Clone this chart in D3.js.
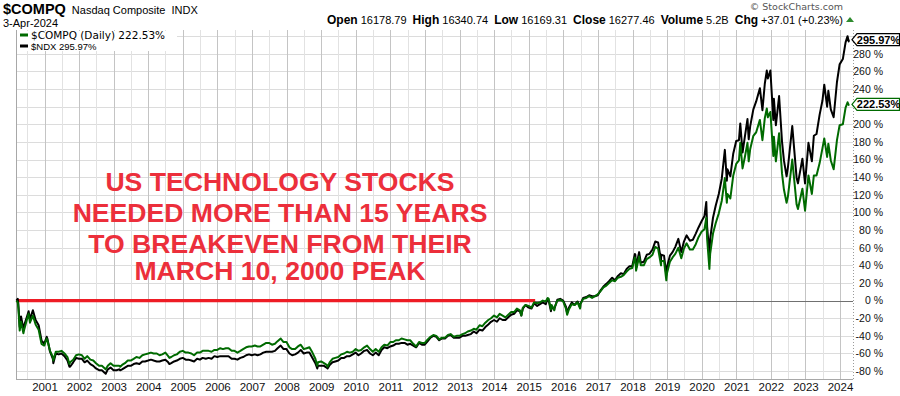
<!DOCTYPE html>
<html><head><meta charset="utf-8">
<script src="https://cdn.jsdelivr.net/npm/d3@7"></script>
<style>body{margin:0;background:#fff}svg{display:block}</style>
</head><body>
<svg id="chart" width="900" height="396"></svg>
<script>
// ---- DATA (percent change since March 10, 2000) ----
const dates = ["2000-03-10","2000-03-24","2000-03-31","2000-04-14","2000-04-28","2000-05-23","2000-05-31","2000-06-30","2000-07-17","2000-07-31","2000-08-31","2000-09-29","2000-10-31","2000-11-30","2000-12-29",
"2001-01-24","2001-01-31","2001-02-28","2001-03-30","2001-04-04","2001-04-30","2001-05-31","2001-06-29","2001-07-31","2001-08-31","2001-09-21","2001-09-28","2001-10-31","2001-11-30","2001-12-31",
"2002-01-31","2002-02-28","2002-03-28","2002-04-30","2002-05-31","2002-06-28","2002-07-31","2002-08-30","2002-09-30","2002-10-09","2002-10-31","2002-11-29","2002-12-31",
"2003-01-31","2003-02-28","2003-03-11","2003-03-31","2003-04-30","2003-05-30","2003-06-30","2003-07-31","2003-08-29","2003-09-30","2003-10-31","2003-11-28","2003-12-31",
"2004-01-30","2004-02-27","2004-03-31","2004-04-30","2004-05-28","2004-06-30","2004-07-30","2004-08-12","2004-08-31","2004-09-30","2004-10-29","2004-11-30","2004-12-31",
"2005-01-31","2005-02-28","2005-03-31","2005-04-29","2005-05-31","2005-06-30","2005-07-29","2005-08-31","2005-09-30","2005-10-31","2005-11-30","2005-12-30",
"2006-01-31","2006-02-28","2006-03-31","2006-04-28","2006-05-31","2006-06-30","2006-07-31","2006-08-31","2006-09-29","2006-10-31","2006-11-30","2006-12-29",
"2007-01-31","2007-02-28","2007-03-30","2007-04-30","2007-05-31","2007-06-29","2007-07-31","2007-08-31","2007-09-28","2007-10-31","2007-11-30","2007-12-31",
"2008-01-31","2008-02-29","2008-03-31","2008-04-30","2008-05-30","2008-06-30","2008-07-31","2008-08-29","2008-09-30","2008-10-31","2008-11-20","2008-11-28","2008-12-31",
"2009-01-30","2009-02-27","2009-03-09","2009-03-31","2009-04-30","2009-05-29","2009-06-30","2009-07-31","2009-08-31","2009-09-30","2009-10-30","2009-11-30","2009-12-31",
"2010-01-29","2010-02-26","2010-03-31","2010-04-30","2010-05-31","2010-06-30","2010-07-30","2010-08-31","2010-09-30","2010-10-29","2010-11-30","2010-12-31",
"2011-01-31","2011-02-28","2011-03-31","2011-04-29","2011-05-31","2011-06-30","2011-07-29","2011-08-31","2011-09-30","2011-10-31","2011-11-30","2011-12-30",
"2012-01-31","2012-02-29","2012-03-30","2012-04-30","2012-05-31","2012-06-29","2012-07-31","2012-08-31","2012-09-28","2012-10-31","2012-11-30","2012-12-31",
"2013-01-31","2013-02-28","2013-03-28","2013-04-30","2013-05-31","2013-06-28","2013-07-31","2013-08-30","2013-09-30","2013-10-31","2013-11-29","2013-12-31",
"2014-01-31","2014-02-28","2014-03-31","2014-04-30","2014-05-30","2014-06-30","2014-07-31","2014-08-29","2014-09-30","2014-10-15","2014-10-31","2014-11-28","2014-12-31",
"2015-01-30","2015-02-27","2015-03-31","2015-04-30","2015-05-29","2015-06-30","2015-07-20","2015-07-31","2015-08-24","2015-08-31","2015-09-28","2015-09-30","2015-10-30","2015-11-30","2015-12-31",
"2016-01-29","2016-02-11","2016-02-29","2016-03-31","2016-04-29","2016-05-31","2016-06-27","2016-06-30","2016-07-29","2016-08-31","2016-09-30","2016-10-31","2016-11-30","2016-12-30",
"2017-01-31","2017-02-28","2017-03-31","2017-04-28","2017-05-31","2017-06-30","2017-07-31","2017-08-31","2017-09-29","2017-10-31","2017-11-30","2017-12-29",
"2018-01-26","2018-01-31","2018-02-08","2018-02-28","2018-03-12","2018-03-29","2018-04-30","2018-05-31","2018-06-29","2018-07-31","2018-08-29","2018-09-28","2018-10-29","2018-10-31","2018-11-30","2018-12-24","2018-12-31",
"2019-01-31","2019-02-28","2019-03-29","2019-04-30","2019-05-31","2019-06-28","2019-07-26","2019-08-30","2019-09-30","2019-10-31","2019-11-29","2019-12-31",
"2020-01-31","2020-02-19","2020-02-28","2020-03-23","2020-03-31","2020-04-30","2020-05-29","2020-06-30","2020-07-31","2020-09-02","2020-09-23","2020-09-30","2020-10-30","2020-11-30","2020-12-31",
"2021-01-29","2021-02-12","2021-03-08","2021-03-31","2021-04-29","2021-05-12","2021-05-28","2021-06-30","2021-07-30","2021-09-07","2021-10-04","2021-10-29","2021-11-19","2021-11-30","2021-12-27",
"2022-01-27","2022-02-02","2022-02-23","2022-03-29","2022-04-29","2022-05-19","2022-06-16","2022-06-30","2022-08-15","2022-09-30","2022-10-14","2022-11-30","2022-12-28",
"2023-02-02","2023-03-10","2023-03-31","2023-04-28","2023-05-31","2023-06-30","2023-07-19","2023-08-18","2023-08-31","2023-09-26","2023-10-26","2023-11-30","2023-12-28",
"2024-01-31","2024-02-29","2024-03-21","2024-04-02","2024-04-03"];

const compq = [0,-2,-9,-34,-24,-37,-33,-21,-15,-25,-17,-27,-33,-49,-51,
-43,-45,-57,-64,-68,-58,-58,-57,-60,-64,-72,-70,-67,-62,-61,
-62,-66,-63,-67,-68,-71,-74,-74,-77,-78,-74,-71,-74,
-74,-74,-75,-73,-71,-68,-68,-66,-64,-65,-62,-61,-60,
-59,-60,-60,-62,-61,-59,-63,-65,-64,-62,-61,-58,-57,
-59,-59,-60,-62,-59,-59,-57,-57,-57,-58,-56,-56,
-54,-55,-54,-54,-57,-57,-59,-57,-55,-53,-52,-52,
-51,-52,-52,-50,-48,-48,-50,-49,-46,-43,-47,-47,
-53,-55,-55,-52,-50,-55,-54,-53,-59,-66,-74,-70,-69,
-71,-73,-75,-70,-66,-65,-64,-61,-60,-58,-59,-58,-55,
-57,-56,-53,-51,-55,-58,-55,-58,-53,-50,-51,-47,
-47,-45,-45,-43,-44,-45,-45,-49,-52,-47,-48,-48,
-44,-41,-39,-40,-44,-42,-42,-39,-38,-41,-40,-40,
-38,-37,-35,-34,-32,-33,-28,-29,-25,-22,-20,-17,
-19,-15,-17,-19,-16,-13,-13,-9,-11,-17,-8,-5,-6,
-8,-2,-3,-2,0,-1,3,2,-10,-5,-11,-8,0,1,-1,
-9,-16,-10,-4,-5,-2,-9,-4,2,3,5,3,5,7,
11,15,17,20,23,22,26,27,29,33,36,37,
49,47,34,44,50,40,40,47,49,52,61,59,40,45,45,23,31,
44,49,53,60,48,59,65,58,58,64,72,78,
81,94,70,36,53,76,88,99,113,139,111,121,116,142,155,
159,179,150,162,179,158,172,187,191,205,182,207,218,208,214,
164,186,158,190,144,126,111,118,160,109,104,127,102,
142,121,142,142,156,173,184,163,178,159,149,182,199,
200,219,225,222,222.53];

const ndx = [0,2,-4,-30,-18,-32,-28,-18,-12,-21,-11,-22,-28,-45,-49,
-41,-43,-58,-66,-71,-60,-61,-60,-63,-68,-75,-75,-70,-65,-66,
-66,-70,-68,-72,-74,-77,-79,-79,-82,-83,-78,-76,-79,
-79,-78,-79,-78,-76,-74,-74,-72,-71,-72,-69,-69,-68,
-67,-68,-69,-69,-68,-67,-70,-72,-71,-69,-68,-66,-65,
-67,-67,-68,-69,-66,-67,-65,-66,-65,-66,-63,-64,
-63,-63,-63,-63,-66,-66,-67,-65,-64,-62,-61,-62,
-61,-62,-61,-59,-58,-58,-58,-57,-54,-51,-55,-55,
-60,-62,-61,-59,-56,-60,-59,-59,-65,-71,-77,-74,-74,
-74,-76,-77,-73,-70,-69,-68,-65,-65,-63,-63,-61,-59,
-62,-60,-57,-56,-60,-62,-59,-62,-56,-53,-54,-52,
-51,-49,-49,-48,-48,-50,-49,-51,-53,-48,-50,-50,
-46,-42,-40,-41,-45,-43,-43,-40,-39,-42,-42,-42,
-40,-40,-39,-38,-35,-37,-33,-34,-30,-27,-24,-22,
-24,-20,-22,-22,-19,-16,-15,-11,-12,-17,-9,-5,-8,
-9,-3,-6,-4,-2,-4,2,0,-12,-7,-10,-9,1,2,0,
-7,-14,-8,-2,-5,-1,-8,-4,3,4,6,5,5,6,
12,16,19,22,26,23,28,31,30,36,39,39,
53,52,37,49,55,43,44,52,53,58,67,66,46,52,51,29,38,
51,55,61,70,55,67,74,68,69,76,83,90,
96,112,84,52,70,94,108,121,138,171,136,149,141,167,181,
182,201,168,185,206,183,198,217,226,241,216,246,261,252,261,
205,229,199,232,180,159,141,151,198,139,133,161,133,
179,158,187,189,211,227,245,220,238,217,208,248,268,
274,293,300,294,295.97];

const yTicks = [-80,-60,-40,-20,0,20,40,60,80,100,120,140,160,180,200,220,240,260,280,300];
const yLabelTicks = [-80,-60,-40,-20,0,20,40,60,80,100,120,140,160,180,200,240,260,280];
const yearTicks = [2001,2002,2003,2004,2005,2006,2007,2008,2009,2010,2011,2012,2013,2014,2015,2016,2017,2018,2019,2020,2021,2022,2023,2024];
const midYearTicks = [2000,2001,2002,2003,2004,2005,2006,2007,2008,2009,2010,2011,2012,2013,2014,2015,2016,2017,2018,2019,2020,2021,2022,2023];
const breakevenEnd = "2015-03-10";
const headline = ["US TECHNOLOGY STOCKS","NEEDED MORE THAN 15 YEARS","TO BREAKEVEN FROM THEIR","MARCH 10, 2000 PEAK"];
const quote = [["Open","16178.79"],["High","16340.74"],["Low","16169.31"],["Close","16277.46"],["Volume","5.2B"],["Chg","+37.01 (+0.23%)"]];

// ---- LAYOUT ----
const L = 16, R = 853, T = 30, B = 379.5;
const FONT = "'Liberation Sans', Arial, sans-serif";
const svg = d3.select("#chart");
const parse = d3.utcParse("%Y-%m-%d");
const x = d3.scaleUtc().domain([parse("2000-03-10"), parse("2024-04-03")]).range([16.4, 848.8]);
const y = d3.scaleLinear().domain([-89.5, 307]).range([B, T]);

svg.append("rect").attr("width",900).attr("height",396).attr("fill","#fff");

const grid = svg.append("g");
grid.selectAll(".hg").data(yTicks).join("line")
  .attr("x1",L).attr("x2",R).attr("y1",d=>Math.round(y(d))+0.5).attr("y2",d=>Math.round(y(d))+0.5)
  .attr("stroke","#dcdcdc").attr("stroke-width",1);
grid.selectAll(".mg").data(midYearTicks).join("line")
  .attr("x1",d=>Math.round(x(Date.UTC(d,6,1)))+0.5).attr("x2",d=>Math.round(x(Date.UTC(d,6,1)))+0.5)
  .attr("y1",T).attr("y2",B).attr("stroke","#e2e2e2");
grid.selectAll(".yg").data(yearTicks).join("line")
  .attr("x1",d=>Math.round(x(Date.UTC(d,0,1)))+0.5).attr("x2",d=>Math.round(x(Date.UTC(d,0,1)))+0.5)
  .attr("y1",T).attr("y2",B).attr("stroke","#c4c4c4");
svg.append("line").attr("x1",L).attr("x2",R).attr("y1",Math.round(y(0))+0.5).attr("y2",Math.round(y(0))+0.5)
  .attr("stroke","#707070").attr("stroke-width",1);

// frame
svg.append("line").attr("x1",L+0.5).attr("x2",L+0.5).attr("y1",T).attr("y2",B).attr("stroke","#a8a8a8");
svg.append("line").attr("x1",L).attr("x2",R).attr("y1",B).attr("y2",B).attr("stroke","#a8a8a8");
svg.append("line").attr("x1",R+0.5).attr("x2",R+0.5).attr("y1",T).attr("y2",B).attr("stroke","#9a9a9a").attr("stroke-dasharray","1,2");

// red breakeven line
svg.append("line").attr("x1",x(parse("2000-03-10"))).attr("x2",x(parse(breakevenEnd)))
  .attr("y1",y(0)).attr("y2",y(0)).attr("stroke","#ee1c25").attr("stroke-width",3.2);

// headline text
const ht = svg.append("text").attr("font-family",FONT).attr("font-weight","bold").attr("font-size",26.6)
  .attr("fill","#ec2f3b").attr("text-anchor","middle");
const base = [191,222,253,280];
headline.forEach((s,i)=>ht.append("tspan").attr("x",280).attr("y",base[i]).text(s));

// series
const pts = (vals)=>dates.map((d,i)=>[parse(d),vals[i]]);
const line = d3.line().x(d=>x(d[0])).y(d=>y(d[1]));
svg.append("path").attr("d",line(pts(ndx))).attr("fill","none").attr("stroke","#000").attr("stroke-width",2).attr("stroke-linejoin","round");
svg.append("path").attr("d",line(pts(compq))).attr("fill","none").attr("stroke","#006a00").attr("stroke-width",2).attr("stroke-linejoin","round");

// axes
const yAxis = d3.axisRight(y).tickValues(yLabelTicks).tickSize(0).tickPadding(0).tickFormat(d=>d+" %");
const ya = svg.append("g").attr("transform",`translate(883,0)`).call(yAxis);
ya.select(".domain").remove();
ya.selectAll("text").attr("text-anchor","end").attr("font-family",FONT).attr("font-size",10.5).attr("fill","#111").attr("x",0);

const xAxis = d3.axisBottom(x).tickValues(yearTicks.map(d=>new Date(Date.UTC(d,0,1)))).tickSize(0).tickPadding(3).tickFormat(d3.utcFormat("%Y"));
const xa = svg.append("g").attr("transform",`translate(0,${B})`).call(xAxis);
xa.select(".domain").remove();
xa.selectAll("text").attr("font-family",FONT).attr("font-size",11.5).attr("fill","#111");

// value tags
function tag(v, col){
  const cy = y(v);
  const g = svg.append("g");
  g.append("path").attr("d",`M852,${cy} L857,${cy-6} L899.5,${cy-6} L899.5,${cy+6} L857,${cy+6} Z`)
    .attr("fill","#fff").attr("stroke",col).attr("stroke-width",1.2);
  g.append("text").attr("x",878.5).attr("y",cy+4).attr("text-anchor","middle").attr("font-family",FONT)
    .attr("font-weight","bold").attr("font-size",11).attr("fill","#000").text(d3.format(".2f")(v)+"%");
}
tag(ndx[ndx.length-1],"#000");
tag(compq[compq.length-1],"#006a00");

// legend
const lg = svg.append("g");
lg.append("rect").attr("x",L+1).attr("y",T+1).attr("width",160).attr("height",20).attr("fill","#fff");
lg.append("line").attr("x1",20).attr("x2",28).attr("y1",35).attr("y2",35).attr("stroke","#006a00").attr("stroke-width",3);
lg.append("line").attr("x1",20).attr("x2",28).attr("y1",46).attr("y2",46).attr("stroke","#000").attr("stroke-width",3);
lg.append("text").attr("x",31).attr("y",38.5).attr("font-family","'DejaVu Sans', Verdana, sans-serif").attr("font-size",10.5).attr("fill","#000")
  .text(`$COMPQ (Daily) ${d3.format(".2f")(compq[compq.length-1])}%`);
lg.append("text").attr("x",31).attr("y",50).attr("font-family",FONT).attr("font-size",9.5).attr("fill","#000")
  .text(`$NDX ${d3.format(".2f")(ndx[ndx.length-1])}%`);

// header
const h1 = svg.append("text").attr("x",3).attr("y",13.5).attr("font-family",FONT).attr("fill","#000");
h1.append("tspan").attr("font-weight","bold").attr("font-size",14.5).text("$COMPQ");
h1.append("tspan").attr("font-size",11).attr("dx",6).text("Nasdaq Composite\u00a0\u00a0INDX");
svg.append("text").attr("x",3).attr("y",27).attr("font-family",FONT).attr("font-size",11).attr("fill","#000").text("3-Apr-2024");
svg.append("text").attr("x",843).attr("y",10).attr("text-anchor","end").attr("font-family","'DejaVu Sans', sans-serif").attr("font-size",9.5).attr("fill","#555").text("\u00a9 StockCharts.com");
const q = svg.append("text").attr("x",843).attr("y",24).attr("text-anchor","end").attr("font-family",FONT).attr("fill","#000");
quote.forEach(([k,v],i)=>{
  q.append("tspan").attr("font-weight","bold").attr("font-size",12).attr("dx",i?6:0).text(k);
  q.append("tspan").attr("font-size",11).attr("dx",3).text(v);
});
svg.append("path").attr("d","M846,22 L850,17 L854,22 Z").attr("fill","#2e8b2e");
</script>
</body></html>
